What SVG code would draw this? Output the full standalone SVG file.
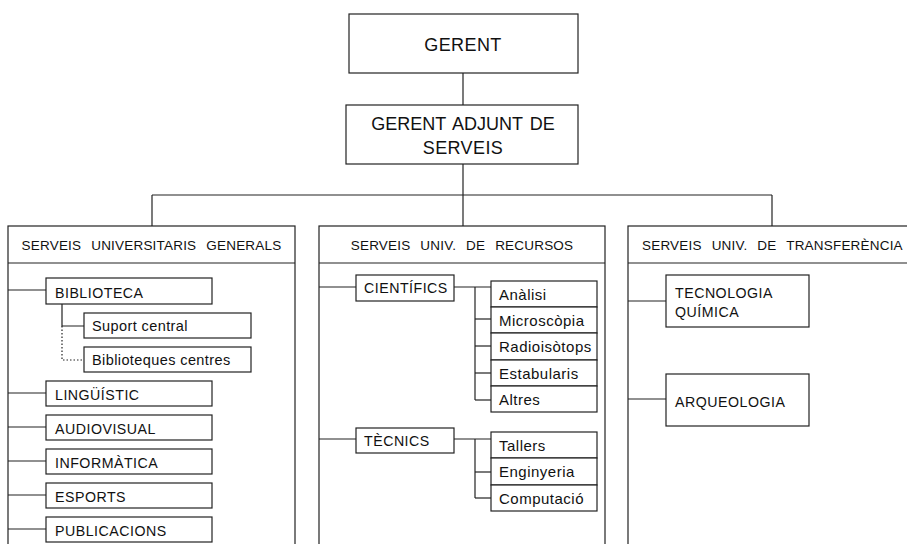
<svg xmlns="http://www.w3.org/2000/svg" width="907" height="544" viewBox="0 0 907 544">
<style>
rect{fill:#fff;stroke:#222;stroke-width:1.2}
rect.col{fill:none}
.c line,.c polyline{stroke:#222;stroke-width:1.2;fill:none}
.d{stroke-dasharray:1.5 2}
text{font-family:"Liberation Sans",Arial,sans-serif;fill:#111;font-size:14.2px;letter-spacing:0.5px}
.big{font-size:18px;letter-spacing:0.4px}
.hd{font-size:13.5px;word-spacing:6px;letter-spacing:0.2px}
.sm{font-size:14.5px;letter-spacing:0.4px}
.sb{font-size:15px;letter-spacing:0.5px}
</style>
<g id="col1">
<rect class="col" x="8" y="226" width="287" height="330"/>
<line x1="8" y1="263" x2="295" y2="263" stroke="#222" stroke-width="1.2"/>
<text class="hd" x="151.5" y="250" text-anchor="middle">SERVEIS UNIVERSITARIS GENERALS</text>
</g>
<g id="col2">
<rect class="col" x="319" y="226" width="286" height="330"/>
<line x1="319" y1="263" x2="605" y2="263" stroke="#222" stroke-width="1.2"/>
<text class="hd" x="462" y="250" text-anchor="middle">SERVEIS UNIV. DE RECURSOS</text>
</g>
<g id="col3">
<rect class="col" x="628" y="226" width="290" height="330"/>
<line x1="628" y1="263" x2="918" y2="263" stroke="#222" stroke-width="1.2"/>
<text class="hd" x="642" y="250">SERVEIS UNIV. DE TRANSFERÈNCIA</text>
</g>
<g class="c" id="connectors">
<line x1="463" y1="73" x2="463" y2="105"/>
<line x1="463" y1="164" x2="463" y2="226"/>
<line x1="152" y1="195" x2="772" y2="195"/>
<line x1="152" y1="195" x2="152" y2="226"/>
<line x1="772" y1="195" x2="772" y2="226"/>
<line x1="8" y1="290" x2="46" y2="290"/>
<polyline points="62,304 62,326 84,326"/>
<polyline class="d" points="62,326 62,360 84,360"/>
<line x1="8" y1="393" x2="46" y2="393"/>
<line x1="8" y1="427" x2="46" y2="427"/>
<line x1="8" y1="461" x2="46" y2="461"/>
<line x1="8" y1="495" x2="46" y2="495"/>
<line x1="8" y1="529" x2="46" y2="529"/>
<line x1="319" y1="287" x2="356" y2="287"/>
<line x1="454" y1="287" x2="491" y2="287"/>
<line x1="475" y1="287" x2="475" y2="400"/>
<line x1="475" y1="319" x2="491" y2="319"/>
<line x1="475" y1="346" x2="491" y2="346"/>
<line x1="475" y1="373" x2="491" y2="373"/>
<line x1="475" y1="400" x2="491" y2="400"/>
<line x1="319" y1="439" x2="356" y2="439"/>
<line x1="454" y1="439" x2="491" y2="439"/>
<line x1="475" y1="439" x2="475" y2="498"/>
<line x1="475" y1="472" x2="491" y2="472"/>
<line x1="475" y1="498" x2="491" y2="498"/>
<line x1="628" y1="301" x2="666" y2="301"/>
<line x1="628" y1="399" x2="666" y2="399"/>
</g>
<g id="gerent"><rect x="349" y="14" width="229" height="59"/><text class="big" x="463" y="51" text-anchor="middle">GERENT</text></g>
<g id="adjunt"><rect x="346" y="105" width="232" height="59"/><text class="big" x="463" y="130" text-anchor="middle" style="letter-spacing:0;word-spacing:2px">GERENT ADJUNT DE</text><text class="big" x="463" y="154" text-anchor="middle">SERVEIS</text></g>
<g id="biblioteca"><rect x="46" y="278" width="166" height="26"/><text x="55" y="298">BIBLIOTECA</text></g>
<g id="suport"><rect x="84" y="313" width="167" height="25"/><text class="sm" x="92" y="331">Suport central</text></g>
<g id="bibcentres"><rect x="84" y="347" width="167" height="25"/><text class="sm" x="92" y="365">Biblioteques centres</text></g>
<g id="linguistic"><rect x="46" y="381" width="166" height="25"/><text x="55" y="400">LINGÜÍSTIC</text></g>
<g id="audiovisual"><rect x="46" y="415" width="166" height="25"/><text x="55" y="434">AUDIOVISUAL</text></g>
<g id="informatica"><rect x="46" y="449" width="166" height="25"/><text x="55" y="468">INFORMÀTICA</text></g>
<g id="esports"><rect x="46" y="483" width="166" height="25"/><text x="55" y="502">ESPORTS</text></g>
<g id="publicacions"><rect x="46" y="517" width="166" height="25"/><text x="55" y="536">PUBLICACIONS</text></g>
<g id="cientifics"><rect x="356" y="275" width="98" height="26"/><text x="364" y="293">CIENTÍFICS</text></g>
<g id="analisi"><rect x="491" y="281" width="106" height="26"/><text class="sb" x="499" y="300">Anàlisi</text></g>
<g id="microscopia"><rect x="491" y="307" width="106" height="26"/><text class="sb" x="499" y="326">Microscòpia</text></g>
<g id="radioisotops"><rect x="491" y="333" width="106" height="27"/><text class="sb" x="499" y="352">Radioisòtops</text></g>
<g id="estabularis"><rect x="491" y="360" width="106" height="26"/><text class="sb" x="499" y="379">Estabularis</text></g>
<g id="altres"><rect x="491" y="386" width="106" height="26"/><text class="sb" x="499" y="405">Altres</text></g>
<g id="tecnics"><rect x="356" y="428" width="98" height="25"/><text x="364" y="446">TÈCNICS</text></g>
<g id="tallers"><rect x="491" y="432" width="106" height="26"/><text class="sb" x="499" y="451">Tallers</text></g>
<g id="enginyeria"><rect x="491" y="458" width="106" height="27"/><text class="sb" x="499" y="477">Enginyeria</text></g>
<g id="computacio"><rect x="491" y="485" width="106" height="26"/><text class="sb" x="499" y="504">Computació</text></g>
<g id="tecnologia"><rect x="666" y="275" width="143" height="52"/><text x="675" y="298">TECNOLOGIA</text><text x="675" y="317">QUÍMICA</text></g>
<g id="arqueologia"><rect x="666" y="374" width="143" height="52"/><text x="675" y="407">ARQUEOLOGIA</text></g>
</svg>
